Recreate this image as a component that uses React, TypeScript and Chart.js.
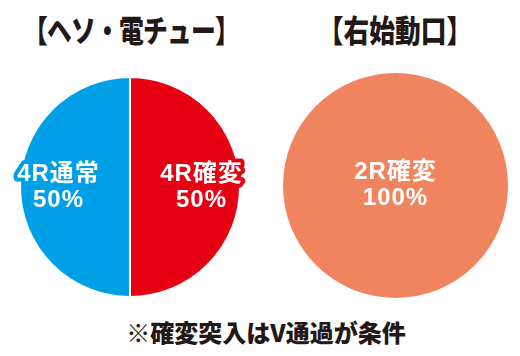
import React, { useEffect, useRef } from "react";
import { Chart, registerables } from "chart.js";

Chart.register(...registerables);

const leftTitle = "【ヘソ・電チュー】";
const rightTitle = "【右始動口】";
const footnote = "※確変突入はV通過が条件";

const leftCategories = ["4R通常", "4R確変"];
const leftValues = [50, 50];
const leftColors = ["#00a0e9", "#e60012"];

const rightCategories = ["2R確変"];
const rightValues = [100];
const rightColors = ["#ef845e"];

const FONT = '"Noto Sans CJK JP", "Noto Sans", sans-serif';
const LABEL_FONT = '"Liberation Sans", "Noto Sans CJK JP", sans-serif';

const labelPlugin = {
  id: "sliceLabels",
  afterDatasetsDraw(chart: any) {
    const ctx = chart.ctx;
    const meta = chart.getDatasetMeta(0);
    const ds = chart.data.datasets[0];
    const labels = chart.data.labels;
    meta.data.forEach((arc: any, i: number) => {
      const p = arc.getProps(["x", "y", "startAngle", "endAngle", "outerRadius"], true);
      let px = p.x;
      let py = p.y;
      if (p.endAngle - p.startAngle < Math.PI * 2 - 1e-6) {
        const mid = (p.startAngle + p.endAngle) / 2;
        px = p.x + Math.cos(mid) * p.outerRadius * 0.65;
        py = p.y + Math.sin(mid) * p.outerRadius * 0.65;
      }
      const lines = [String(labels[i]), ds.data[i] + "%"];
      ctx.save();
      ctx.font = "bold 24px " + LABEL_FONT;
      try {
        (ctx as any).letterSpacing = "1px";
      } catch (e) {}
      ctx.textAlign = "center";
      ctx.textBaseline = "middle";
      ctx.lineJoin = "round";
      ctx.lineWidth = 8;
      ctx.strokeStyle = ds.backgroundColor[i];
      lines.forEach((t, k) => {
        const ly = py + (k - 0.5) * 26;
        ctx.strokeText(t, px, ly);
      });
      ctx.fillStyle = "#ffffff";
      lines.forEach((t, k) => {
        const ly = py + (k - 0.5) * 26;
        ctx.fillText(t, px, ly);
      });
      ctx.restore();
    });
  },
};

function PieCanvas(props: {
  labels: string[];
  values: number[];
  colors: string[];
  width: number;
  height: number;
  rotation: number;
  border: number;
}) {
  const ref = useRef<HTMLCanvasElement | null>(null);
  useEffect(() => {
    if (!ref.current) return;
    const chart = new Chart(ref.current, {
      type: "pie",
      data: {
        labels: props.labels,
        datasets: [
          {
            data: props.values,
            backgroundColor: props.colors,
            borderColor: "#ffffff",
            borderWidth: props.border,
          },
        ],
      },
      options: {
        responsive: false,
        animation: false,
        rotation: props.rotation,
        layout: { padding: 0 },
        plugins: {
          legend: { display: false },
          tooltip: { enabled: false },
          title: { display: false },
        },
      },
      plugins: [labelPlugin],
    });
    return () => chart.destroy();
  }, []);
  return <canvas ref={ref} width={props.width} height={props.height} style={{ display: "block" }} />;
}

export default function App() {
  const titleStyle: React.CSSProperties = {
    position: "absolute",
    fontFamily: FONT,
    fontWeight: 900,
    color: "#231815",
    whiteSpace: "nowrap",
    lineHeight: "1",
  };
  return (
    <div style={{ position: "fixed", left: 0, top: 0, width: 520, height: 356, background: "#fff", overflow: "hidden" }}>
      <div
        style={{
          ...titleStyle,
          left: 131,
          top: 28,
          fontSize: 31,
          letterSpacing: -1,
          transform: "translate(-50%, -50%) scaleX(0.8)",
        }}
      >
        {leftTitle}
      </div>
      <div
        style={{
          ...titleStyle,
          left: 395,
          top: 28,
          fontSize: 31,
          transform: "translate(-50%, -50%) scaleX(0.83)",
        }}
      >
        {rightTitle}
      </div>
      <div style={{ position: "absolute", left: 0, top: 76 }}>
        <PieCanvas labels={leftCategories} values={leftValues} colors={leftColors} width={260} height={222} rotation={180} border={2} />
      </div>
      <div style={{ position: "absolute", left: 270, top: 73 }}>
        <PieCanvas labels={rightCategories} values={rightValues} colors={rightColors} width={251} height={225} rotation={0} border={0} />
      </div>
      <div
        style={{
          ...titleStyle,
          left: 266,
          top: 332,
          fontSize: 24,
          transform: "translate(-50%, -50%)",
        }}
      >
        {footnote}
      </div>
    </div>
  );
}
